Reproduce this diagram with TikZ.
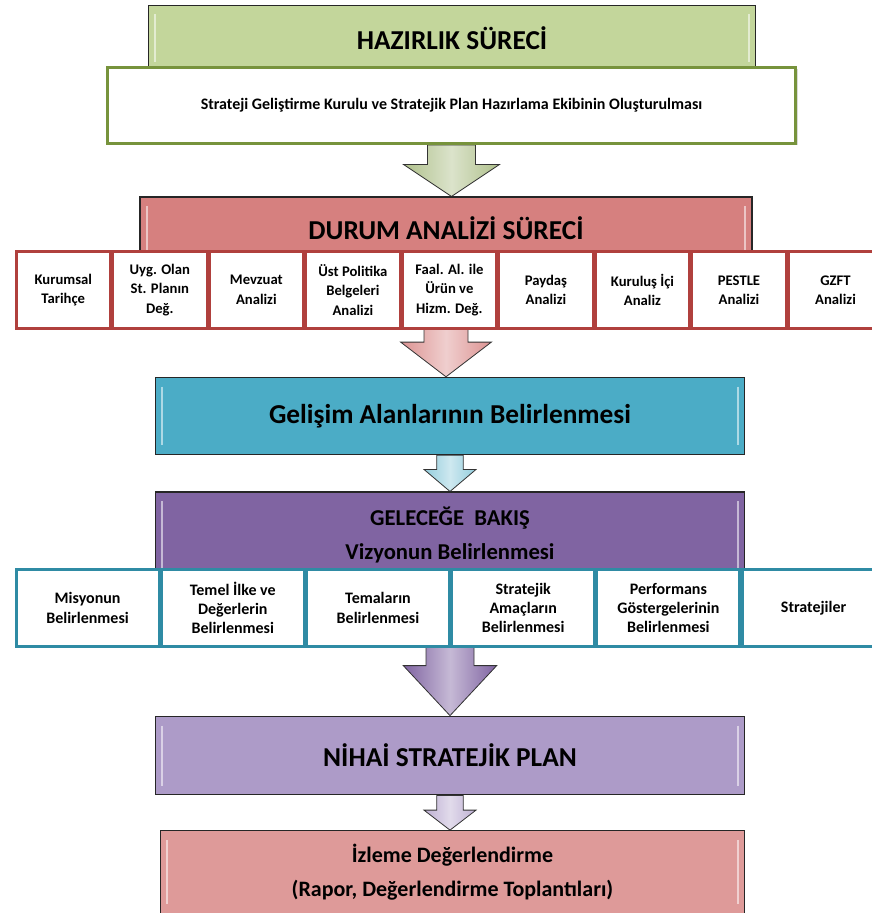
\documentclass[tikz,border=0pt]{standalone}
\usepackage{fontspec}
\setmainfont{Carlito}
\usepackage{tikz}
\usetikzlibrary{positioning}
\usetikzlibrary{calc}
\usetikzlibrary{backgrounds}
\usetikzlibrary{shadows}

\definecolor{hzgreen}{HTML}{C3D69B}
\definecolor{kurulgreen}{HTML}{77933C}
\definecolor{durumred}{HTML}{D6807F}
\definecolor{cellred}{HTML}{B0403D}
\definecolor{gelisimcyan}{HTML}{4BACC6}
\definecolor{bakispurple}{HTML}{8064A2}
\definecolor{cellteal}{HTML}{2F8BA4}
\definecolor{nihaipurple}{HTML}{AD9BC8}
\definecolor{izlemepink}{HTML}{DE9A99}

\begin{document}
\begin{tikzpicture}[x=0.75pt, y=-0.75pt,
        header_style/.style={draw=black!85, line width=0.8pt, fill=#1, inner sep=0pt, align=center,
            path picture={
                \draw[white, opacity=0.55, line width=1.6pt]
                    ([xshift=5pt,yshift=-7pt]path picture bounding box.north west) --
                    ([xshift=5pt,yshift=7pt]path picture bounding box.south west);
                \draw[white, opacity=0.55, line width=1.6pt]
                    ([xshift=-5pt,yshift=-7pt]path picture bounding box.north east) --
                    ([xshift=-5pt,yshift=7pt]path picture bounding box.south east);
            }},
        big_font/.style={font=\fontsize{20.5}{24}\selectfont\bfseries},
        mid_font/.style={font=\fontsize{17}{25.5}\selectfont\bfseries},
        red_cell/.style={draw=cellred, line width=1.9pt, fill=white, align=center, inner sep=1pt,
            minimum width=70.5pt, minimum height=58pt,
            font=\fontsize{11}{14.6}\selectfont\bfseries,
            drop shadow={shadow xshift=1.2pt, shadow yshift=-1.2pt, opacity=0.3}},
        teal_cell/.style={draw=cellteal, line width=1.9pt, fill=white, align=center, inner sep=1pt,
            minimum width=107pt, minimum height=58pt,
            font=\fontsize{12}{14.5}\selectfont\bfseries,
            drop shadow={shadow xshift=1.2pt, shadow yshift=-1.2pt, opacity=0.3}},
        block_arrow/.style n args={4}{draw=black!80, line width=0.6pt,
            left color=#1, right color=#1, middle color=#1!45!white,
            to path={let \p1=(\tikztostart), \p2=(\tikztotarget) in
                (\x1-#2,\y1) -- (\x1+#2,\y1) -- (\x1+#2,\y2+#4) -- (\x1+#3,\y2+#4)
                -- (\x1,\y2) -- (\x1-#3,\y2+#4) -- (\x1-#2,\y2+#4) -- cycle}}]

    \useasboundingbox (0,0) rectangle (871,913);

    % hazirlik sureci
    \node[header_style=hzgreen, big_font, minimum width=455pt, minimum height=50pt] (hazirlik) at (452,38.5) {HAZIRLIK SÜRECİ};
    \node[draw=kurulgreen, line width=2.2pt, fill=white, minimum width=516pt, minimum height=57pt,
        font=\fontsize{12}{14}\selectfont\bfseries,
        drop shadow={shadow xshift=1.5pt, shadow yshift=-1.5pt, opacity=0.3}] (kurul) at (451.5,105.5)
        {Strateji Geliştirme Kurulu ve Stratejik Plan Hazırlama Ekibinin Oluşturulması};

    % durum analizi
    \node[header_style=durumred, big_font, minimum width=459pt, minimum height=46.5pt] (durum) at (446,228) {DURUM ANALİZİ SÜRECİ};
    \node[red_cell, anchor=west] (tarihce) at (15,290) {Kurumsal\\Tarihçe};
    \node[red_cell, right=0pt of tarihce] (uygplan) {Uyg. Olan\\St. Planın\\Değ.};
    \node[red_cell, right=0pt of uygplan] (mevzuat) {Mevzuat\\Analizi};
    \node[red_cell, right=0pt of mevzuat] (politika) {Üst Politika\\Belgeleri\\Analizi};
    \node[red_cell, right=0pt of politika] (faaliyet) {Faal. Al. ile\\Ürün ve\\Hizm. Değ.};
    \node[red_cell, right=0pt of faaliyet] (paydas) {Paydaş\\Analizi};
    \node[red_cell, right=0pt of paydas] (kurulus) {Kuruluş İçi\\Analiz};
    \node[red_cell, right=0pt of kurulus] (pestle) {PESTLE\\Analizi};
    \node[red_cell, right=0pt of pestle] (gzft) {GZFT\\Analizi};

    % gelisim alanlari
    \node[header_style=gelisimcyan, big_font, minimum width=442pt, minimum height=58pt] (gelisim) at (450,416) {Gelişim Alanlarının Belirlenmesi};

    % gelecege bakis
    \node[header_style=bakispurple, mid_font, minimum width=442pt, minimum height=64.5pt] (bakis) at (450,535) {GELECEĞE\ \ BAKIŞ\\Vizyonun Belirlenmesi};
    \node[teal_cell, anchor=west] (misyon) at (15,608) {Misyonun\\Belirlenmesi};
    \node[teal_cell, right=0pt of misyon] (ilke) {Temel İlke ve\\Değerlerin\\Belirlenmesi};
    \node[teal_cell, right=0pt of ilke] (tema) {Temaların\\Belirlenmesi};
    \node[teal_cell, right=0pt of tema] (amac) {Stratejik\\Amaçların\\Belirlenmesi};
    \node[teal_cell, right=0pt of amac] (gosterge) {Performans\\Göstergelerinin\\Belirlenmesi};
    \node[teal_cell, right=0pt of gosterge] (strateji) {Stratejiler};

    % nihai plan ve izleme
    \node[header_style=nihaipurple, big_font, minimum width=442pt, minimum height=59pt] (nihai) at (450,755.5) {NİHAİ STRATEJİK PLAN};
    \node[header_style=izlemepink, font=\fontsize{16.5}{26}\selectfont\bfseries, minimum width=438pt, minimum height=62pt] (izleme) at (452.5,872) {İzleme Değerlendirme\\(Rapor, Değerlendirme Toplantıları)};

    \begin{scope}[on background layer]
        \draw[block_arrow={hzgreen!90!black}{18pt}{36pt}{24pt}] (kurul.south) to (durum.north);
        \draw[block_arrow={durumred!85!white}{16.5pt}{34pt}{26pt}] (durum.south) to (gelisim.north);
        \draw[block_arrow={gelisimcyan!60!white}{10pt}{19.5pt}{16.5pt}] (gelisim.south) to (bakis.north);
        \draw[block_arrow={bakispurple}{18pt}{35pt}{37.5pt}] (bakis.south) to (nihai.north);
        \draw[block_arrow={nihaipurple!80!white}{10pt}{19.5pt}{15pt}] (nihai.south) to (izleme.north);
    \end{scope}
\end{tikzpicture}
\end{document}
